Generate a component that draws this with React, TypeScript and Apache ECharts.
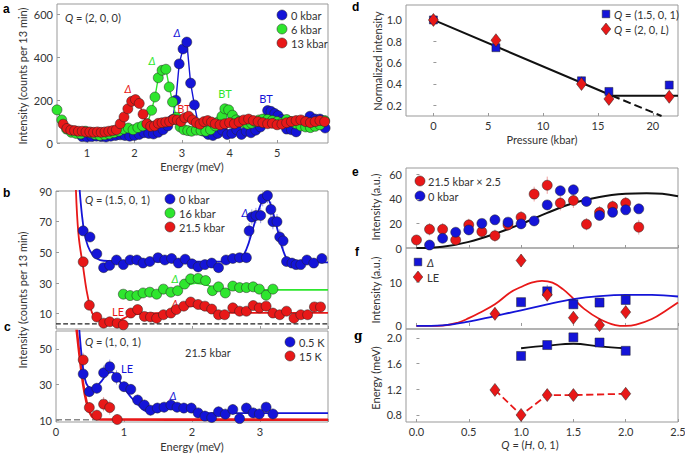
import React, { useEffect, useRef } from "react";
import * as echarts from "echarts";

type P = [number, number];

// ---------- Panel a: Q = (2,0,0) ----------
const A_0KBAR: P[] = [[0.9,30],[1.0,28],[1.1,30],[1.2,32],[1.3,30],[1.4,28],[1.5,32],[1.6,35],[1.7,38],[1.8,35],[1.9,32],[2.0,35],[2.1,40],[2.2,48],[2.3,45],[2.4,42],[2.5,50],[2.6,62],[2.7,80],[2.8,110],[2.87,200],[2.94,370],[3.02,440],[3.1,472],[3.18,280],[3.26,178],[3.35,80],[3.45,55],[3.55,40],[3.65,35],[3.75,45],[3.85,60],[3.95,40],[4.05,45],[4.15,62],[4.25,40],[4.35,55],[4.45,48],[4.55,60],[4.65,75],[4.72,110],[4.8,152],[4.87,148],[4.95,138],[5.02,128],[5.1,110],[5.2,65],[5.3,62],[5.4,52],[5.48,99],[5.59,88],[5.69,125],[5.8,112],[5.9,112],[6.01,70]];
const A_6KBAR: P[] = [[0.37,155],[0.47,108],[0.57,65],[0.67,50],[0.77,45],[0.87,42],[0.97,55],[1.07,48],[1.17,40],[1.27,35],[1.37,38],[1.47,42],[1.57,48],[1.67,55],[1.77,65],[1.87,70],[1.97,62],[2.07,72],[2.17,80],[2.27,90],[2.36,153],[2.43,215],[2.5,305],[2.58,340],[2.66,345],[2.73,262],[2.8,192],[2.88,120],[2.96,75],[3.04,62],[3.12,58],[3.2,55],[3.3,60],[3.4,58],[3.5,55],[3.6,62],[3.7,80],[3.77,100],[3.84,125],[3.9,160],[3.98,155],[4.06,130],[4.14,108],[4.22,102],[4.3,95],[4.38,88],[4.46,92],[4.54,100],[4.62,108],[4.7,112],[4.8,110],[4.9,105],[5.0,100],[5.1,95],[5.2,110],[5.3,100],[5.4,90],[5.5,80],[5.6,75],[5.7,72],[5.8,78],[5.9,85],[6.0,105]];
const A_13KBAR: P[] = [[0.5,88],[0.58,68],[0.66,60],[0.74,58],[0.82,55],[0.9,55],[0.98,52],[1.06,52],[1.14,50],[1.22,52],[1.3,50],[1.38,52],[1.46,55],[1.54,58],[1.62,62],[1.7,90],[1.78,122],[1.86,160],[1.94,195],[2.02,203],[2.1,185],[2.18,135],[2.26,90],[2.34,78],[2.42,80],[2.5,92],[2.58,95],[2.66,98],[2.74,100],[2.82,110],[2.9,108],[2.98,100],[3.06,118],[3.14,125],[3.22,108],[3.3,95],[3.38,88],[3.46,100],[3.54,105],[3.62,98],[3.7,90],[3.8,85],[3.9,90],[4.0,95],[4.1,90],[4.2,98],[4.3,108],[4.4,112],[4.5,105],[4.6,100],[4.7,95],[4.8,90],[4.9,92],[5.0,85],[5.1,88],[5.2,95],[5.3,100],[5.4,105],[5.5,108],[5.6,100],[5.7,95],[5.8,100],[5.9,105],[6.0,100]];

// ---------- Panel b: Q = (1.5,0,1) ----------
const B_0KBAR: P[] = [[0.40,64],[0.5,60],[0.6,49],[0.7,40],[0.79,41.5],[0.89,45],[0.99,42],[1.09,45],[1.19,45],[1.28,43],[1.38,44],[1.5,46.5],[1.6,45],[1.7,46],[1.8,43],[1.9,45.5],[2.0,42.5],[2.09,40.5],[2.19,42],[2.29,43],[2.39,40],[2.5,45],[2.6,46],[2.7,46.5],[2.8,46.5],[2.84,64],[2.88,73],[2.94,74],[3.01,74],[3.04,85],[3.11,87],[3.16,78],[3.19,70],[3.25,70],[3.29,60],[3.34,57.5],[3.39,44],[3.47,43],[3.53,42],[3.6,42],[3.69,45],[3.79,43],[3.91,46]];
const B_0KBAR_ERR = [3,3,3,3,3,3,3,3,3,3,3,3,3,3,3,3,3,3,3,3,3,3,3,3,3,5,5,5,5,5,5,5,5,5,5,5,3,3,3,3,3,3,3];
const B_16KBAR: P[] = [[0.99,22.7],[1.09,21.8],[1.19,21.8],[1.28,23.5],[1.38,24],[1.48,22.7],[1.58,26],[1.69,24],[1.79,25],[1.89,29.3],[1.98,32.7],[2.09,33],[2.2,31.6],[2.3,25],[2.39,27.5],[2.49,23.5],[2.6,28],[2.7,27],[2.8,27],[2.9,27.5],[2.99,26],[3.09,22],[3.19,26]];
const B_21KBAR: P[] = [[0.40,43.8],[0.49,15.5],[0.6,7.8],[0.7,3.8],[0.79,4.7],[0.9,3.8],[0.99,2.7],[1.1,10.4],[1.2,12.7],[1.3,8.2],[1.39,7.8],[1.48,7],[1.58,9.3],[1.69,10.4],[1.77,12.7],[1.88,14.9],[1.98,17.6],[2.09,16],[2.19,14.9],[2.29,13],[2.39,9.3],[2.48,9.3],[2.6,13.8],[2.7,11.6],[2.8,11.6],[2.9,15.3],[2.99,13.8],[3.09,14.9],[3.19,10.4],[3.29,9.3],[3.39,11.6],[3.5,7],[3.6,9.3],[3.7,9.3],[3.8,14.4],[3.89,14.4]];
const B_FIT_0: P[] = [[0.34,95],[0.38,75],[0.42,62],[0.47,54],[0.53,49],[0.6,46],[0.7,44.5],[1.0,44],[2.6,44],[2.7,45],[2.8,52],[2.9,66],[3.0,80],[3.08,86],[3.15,82],[3.25,66],[3.35,50],[3.45,44],[4.0,43.5]];
const B_FIT_16: P[] = [[0.95,22.5],[1.4,23.5],[1.7,25],[1.9,28],[2.05,30],[2.2,29],[2.4,26],[2.8,25.8],[3.2,25.5],[4.0,25.5]];
const B_FIT_21: P[] = [[0.29,95],[0.33,62],[0.4,40],[0.45,25],[0.5,15],[0.55,9],[0.65,5.5],[0.8,5],[0.95,6],[1.1,9],[1.3,10],[1.7,11],[1.9,14],[2.0,15],[2.15,13],[2.4,10.5],[4.0,10.5]];
const B_BASE: P[] = [[0,3.3],[4,3.3]];

// ---------- Panel c: Q = (1,0,1), 21.5 kbar ----------
const C_05K: P[] = [[0.40,35.9],[0.49,26],[0.6,27.9],[0.7,36.6],[0.79,40],[0.89,34],[1.0,28.8],[1.1,27.3],[1.2,21.3],[1.3,18.5],[1.39,15.6],[1.49,16.8],[1.59,17.3],[1.69,18.5],[1.78,17.3],[1.88,16.8],[1.99,16.8],[2.09,14.1],[2.19,12.3],[2.29,11.5],[2.39,14.7],[2.49,13.4],[2.6,16],[2.7,10.9],[2.8,16.8],[2.9,14.1],[2.99,13.5],[3.09,17.3],[3.19,13.5]];
const C_05K_ERR = [4,3,3,4,4,4,3,3,3,3,3,3,3,3,3,3,3,3,3,3,3,3,3,3,3,3,3,3,3];
const C_15K: P[] = [[0.40,43.8],[0.49,17.1],[0.6,12.8],[0.7,19],[0.79,17.1],[0.9,10.4]];
const C_15K_ERR = [4,3,3,4,4,3];
const C_FIT_05: P[] = [[0.34,62],[0.38,45],[0.42,34],[0.47,29],[0.55,28],[0.65,31],[0.75,36],[0.82,37],[0.9,34],[1.0,28],[1.1,23],[1.2,19],[1.3,15.5],[1.4,14.5],[1.55,15.5],[1.7,17],[1.85,16.5],[2.0,15],[2.2,14],[2.5,14],[4.0,14]];
const C_FIT_15: P[] = [[0.3,62],[0.35,45],[0.4,30],[0.45,20],[0.5,14],[0.55,11.5],[0.65,10.4],[4.0,10.3]];
const C_BASE: P[] = [[0,10.2],[0.6,10.2]];

// ---------- Panel d: pressure dependence ----------
const D_Q15: P[] = [[0,1.0],[5.7,0.74],[13.5,0.43],[16,0.33],[21.5,0.39]];
const D_Q15_ERR = [0.04,0.03,0.04,0.03,0.04];
const D_Q2: P[] = [[0,1.0],[5.7,0.81],[13.5,0.40],[16,0.26],[21.5,0.28]];
const D_Q2_ERR = [0.05,0.03,0.04,0.03,0.03];
const D_FIT: P[] = [[0,1.0],[16.3,0.29],[22.3,0.29]];
const D_FIT_DASH: P[] = [[16.3,0.29],[20.8,0.1]];

// ---------- Panel e: intensity vs Q ----------
const E_21KBAR: P[] = [[0,6.5],[0.125,15.2],[0.25,15.2],[0.375,6.5],[0.5,18.8],[0.625,13.3],[0.75,10],[0.875,18.8],[1.0,25],[1.125,43.8],[1.25,51],[1.375,36.5],[1.5,38.6],[1.625,19.3],[1.75,29],[1.875,33.7],[2.0,36.5],[2.125,16.9]];
const E_21KBAR_ERR = [3,5,5,4,5,5,5,5,5,6,7,6,6,5,5,5,5,6];
const E_0KBAR: P[] = [[0.125,2.4],[0.25,7.9],[0.375,12.8],[0.5,14.7],[0.625,20],[0.75,22.9],[0.875,21],[1.0,19.6],[1.125,22],[1.25,35],[1.375,46.5],[1.5,47.3],[1.625,37.8],[1.75,26.4],[1.875,29],[2.0,31],[2.125,31.8]];
const E_0KBAR_ERR = [2,3,3,3,3,3,3,3,3,3,3,3,3,3,3,3,3];
const E_FIT: P[] = [[0,0],[0.25,1],[0.5,5],[0.75,11.5],[1.0,19.5],[1.25,28.5],[1.5,36.5],[1.75,41.5],[2.0,44],[2.2,44.5],[2.35,44],[2.5,42]];

// ---------- Panel f ----------
const F_DELTA: P[] = [[1.0,5.5],[1.25,8],[1.5,5],[1.75,5.4],[2.0,6]];
const F_DELTA_ERR = [1,1.5,1,1,1];
const F_LE: P[] = [[0.75,2.8],[1.0,15.1],[1.25,7.2],[1.5,1.9],[1.75,0.2],[2.0,3.2]];
const F_LE_ERR = [1.5,1.5,1.5,1.5,1.5,1.5];
const F_FIT_LE: P[] = [[0,0],[0.25,0.1],[0.4,0.8],[0.5,1.8],[0.6,3],[0.75,5],[0.9,7.8],[1.0,9],[1.1,10],[1.2,10.4],[1.3,10],[1.4,8.5],[1.5,6.3],[1.6,4],[1.75,1.6],[1.9,0.2],[2.0,0],[2.1,0.3],[2.25,1.6],[2.4,3.8],[2.5,5.4]];
const F_FIT_DELTA: P[] = [[0,0],[0.25,0.15],[0.5,1.0],[0.75,2.3],[1.0,3.6],[1.25,5.0],[1.5,6.2],[1.75,6.9],[2.0,7.2],[2.25,7.2],[2.5,6.8]];

// ---------- Panel g ----------
const G_DELTA: P[] = [[1.0,1.72],[1.25,1.89],[1.5,2.01],[1.75,1.93],[2.0,1.80]];
const G_DELTA_ERR = [0.03,0.04,0.04,0.05,0.03];
const G_LE: P[] = [[0.75,1.19],[1.0,0.80],[1.25,1.11],[1.5,1.11],[2.0,1.13]];
const G_LE_ERR = [0.07,0.05,0.05,0.05,0.07];
const G_FIT: P[] = [[1.0,1.84],[1.25,1.88],[1.5,1.91],[1.75,1.87],[2.0,1.84]];

// tick values
const A_XT = [1, 2, 3, 4, 5];
const A_YT = [0, 200, 400, 600];
const BC_XT = [0, 1, 2, 3, 4];
const C_XL = [0, 1, 2, 3];
const B_YT = [10, 30, 50, 70, 90];
const C_YT = [10, 30, 50];
const D_XT = [0, 5, 10, 15, 20];
const D_YT = [0.2, 0.4, 0.6, 0.8, 1.0];
const Q_XT = [0, 0.5, 1.0, 1.5, 2.0, 2.5];
const E_YT = [0, 20, 40, 60];
const F_YT = [0, 10];
const G_YT = [0.8, 1.2, 1.6, 2.0];

const BLUE = "#1414d8";
const GREEN = "#2ee62e";
const RED = "#e81818";
const BLUE_ERR = "#9a9ae8";
const RED_ERR = "#f0a0a0";
const FONT = "Lato, 'Open Sans', sans-serif";
const TXT = "#333";

function vAxis(gi: number, min: number, max: number, ticks: number[], labels: number[] | null, fmt?: (v: number) => string) {
  return {
    type: "value", gridIndex: gi, min, max, scale: true,
    splitLine: { show: false },
    axisLine: { show: false },
    axisTick: { show: true, inside: true, length: 3, lineStyle: { color: "#999" }, customValues: ticks },
    axisLabel: {
      show: !!labels, customValues: labels || ticks, fontSize: 11, color: TXT, fontFamily: FONT, margin: 4,
      formatter: fmt ? (v: number) => fmt(v) : undefined,
    },
  };
}

function lineSym(data: P[], gi: number, color: string) {
  return {
    type: "line", data, xAxisIndex: gi, yAxisIndex: gi, symbol: "circle", symbolSize: 10, showSymbol: true,
    itemStyle: { color, borderColor: "#222", borderWidth: 0.5 },
    lineStyle: { color, width: 1.4 }, z: 3,
  };
}
function pts(data: P[], gi: number, color: string, symbol = "circle", size: any = 10) {
  return {
    type: "scatter", data, xAxisIndex: gi, yAxisIndex: gi, symbol, symbolSize: size,
    itemStyle: { color, borderColor: "#222", borderWidth: 0.5, opacity: 1 }, z: 4,
  };
}
function fit(data: P[], gi: number, color: string, width = 1.8, dashed = false, smooth: any = 0.4) {
  return {
    type: "line", data, xAxisIndex: gi, yAxisIndex: gi, symbol: "none", showSymbol: false, smooth,
    lineStyle: { color, width, type: dashed ? "dashed" : "solid" }, z: 2, silent: true,
  };
}
function errBars(data: P[], err: number[], gi: number, color: string) {
  return {
    type: "custom", xAxisIndex: gi, yAxisIndex: gi, silent: true, z: 1, clip: true,
    data: data.map((p, i) => [p[0], p[1], err[i]]),
    renderItem: (_params: any, api: any) => {
      const x = api.value(0), y = api.value(1), e = api.value(2);
      const lo = api.coord([x, y - e]);
      const hi = api.coord([x, y + e]);
      return { type: "line", shape: { x1: lo[0], y1: lo[1], x2: hi[0], y2: hi[1] }, style: { stroke: color, lineWidth: 1 } };
    },
  };
}

function txt(x: number, y: number, text: string, color = TXT, extra: any = {}) {
  return {
    type: "text", x, y, silent: true,
    style: {
      text, fill: color, fontSize: 11, fontFamily: FONT,
      align: extra.align || "left", textAlign: extra.align || "left",
      verticalAlign: "middle", textVerticalAlign: "middle",
      fontStyle: extra.italic ? "italic" : "normal",
      fontWeight: extra.bold ? "bold" : "normal",
      rich: {
        i: { fontStyle: "italic", fontSize: 11, fontFamily: FONT, fill: color },
      },
    },
  };
}
function rotTxt(x: number, y: number, text: string) {
  return {
    type: "text", x, y, rotation: Math.PI / 2, silent: true,
    style: {
      text, fill: TXT, fontSize: 11, fontFamily: FONT,
      align: "center", textAlign: "center", verticalAlign: "middle", textVerticalAlign: "middle",
    },
  };
}
function letter(x: number, y: number, t: string, serif = false) {
  return {
    type: "text", x, y, silent: true,
    style: { text: t, fill: "#000", fontSize: 12, fontWeight: "bold", fontFamily: serif ? "'DejaVu Serif', serif" : "Arial, 'Liberation Sans', sans-serif", verticalAlign: "middle", textVerticalAlign: "middle" },
  };
}
function dot(cx: number, cy: number, color: string) {
  return { type: "circle", shape: { cx, cy, r: 5 }, style: { fill: color, stroke: "#222", lineWidth: 0.5 }, silent: true };
}
function sq(cx: number, cy: number, color: string) {
  return { type: "rect", shape: { x: cx - 3.8, y: cy - 3.8, width: 7.6, height: 7.6 }, style: { fill: color, stroke: "#222", lineWidth: 0.5 }, silent: true };
}
function dia(cx: number, cy: number, color: string) {
  return { type: "polygon", shape: { points: [[cx, cy - 6], [cx + 4.8, cy], [cx, cy + 6], [cx - 4.8, cy]] }, style: { fill: color, stroke: "#222", lineWidth: 0.5 }, silent: true };
}

export default function App() {
  const ref = useRef<HTMLDivElement>(null);
  useEffect(() => {
    if (!ref.current) return;
    const chart = echarts.init(ref.current, undefined, { renderer: "svg" });
    const gridStyle = { show: true, borderColor: "#999", borderWidth: 1, backgroundColor: "transparent", containLabel: false, outerBoundsMode: "none" };
    const grids = [
      { left: 57, top: 4, width: 271, height: 139 },
      { left: 56, top: 191, width: 272, height: 138 },
      { left: 56, top: 331, width: 272, height: 91 },
      { left: 406, top: 5, width: 272, height: 111 },
      { left: 406, top: 168, width: 272, height: 80 },
      { left: 406, top: 248, width: 272, height: 81 },
      { left: 406, top: 329, width: 272, height: 93 },
    ].map((g) => ({ ...gridStyle, ...g }));

    const f1 = (v: number) => v.toFixed(1);
    const xAxis = [
      vAxis(0, 0.37, 6.07, A_XT, A_XT),
      vAxis(1, 0, 4, BC_XT, null),
      vAxis(2, 0, 4, BC_XT, C_XL),
      vAxis(3, -2.5, 22.3, D_XT, D_XT),
      vAxis(4, -0.1, 2.5, Q_XT, null),
      vAxis(5, -0.1, 2.5, Q_XT, null),
      vAxis(6, -0.1, 2.5, Q_XT, Q_XT, f1),
    ];
    const yAxis = [
      vAxis(0, 0, 650, A_YT, A_YT),
      vAxis(1, 0, 90, B_YT, B_YT),
      vAxis(2, 9, 60, C_YT, C_YT),
      vAxis(3, 0.1, 1.14, D_YT, D_YT, f1),
      vAxis(4, 0, 65, E_YT, E_YT),
      vAxis(5, -0.7, 18, F_YT, F_YT),
      vAxis(6, 0.69, 2.14, G_YT, G_YT, f1),
    ];

    const series: any[] = [
      // a
      lineSym(A_0KBAR, 0, BLUE),
      lineSym(A_6KBAR, 0, GREEN),
      lineSym(A_13KBAR, 0, RED),
      // b
      fit(B_BASE, 1, "#222", 1.2, true, false),
      errBars(B_0KBAR, B_0KBAR_ERR, 1, BLUE_ERR),
      fit(B_FIT_0, 1, BLUE),
      fit(B_FIT_16, 1, GREEN),
      fit(B_FIT_21, 1, RED),
      pts(B_0KBAR, 1, BLUE),
      pts(B_16KBAR, 1, GREEN),
      pts(B_21KBAR, 1, RED),
      // c
      errBars(C_05K, C_05K_ERR, 2, BLUE_ERR),
      errBars(C_15K, C_15K_ERR, 2, RED_ERR),
      fit(C_BASE, 2, "#888", 1.5, true, false),
      fit(C_FIT_15, 2, RED, 2.6),
      fit(C_FIT_05, 2, BLUE),
      pts(C_15K, 2, RED),
      pts(C_05K, 2, BLUE),
      // d
      errBars(D_Q15, D_Q15_ERR, 3, BLUE_ERR),
      errBars(D_Q2, D_Q2_ERR, 3, RED_ERR),
      fit(D_FIT, 3, "#111", 2, false, false),
      fit(D_FIT_DASH, 3, "#111", 2, true, false),
      pts(D_Q15, 3, BLUE, "rect", 8),
      pts(D_Q2, 3, RED, "diamond", [10, 13]),
      // e
      errBars(E_0KBAR, E_0KBAR_ERR, 4, BLUE_ERR),
      errBars(E_21KBAR, E_21KBAR_ERR, 4, RED_ERR),
      fit(E_FIT, 4, "#111", 2),
      pts(E_21KBAR, 4, RED),
      pts(E_0KBAR, 4, BLUE),
      // f
      errBars(F_DELTA, F_DELTA_ERR, 5, BLUE_ERR),
      errBars(F_LE, F_LE_ERR, 5, RED_ERR),
      fit(F_FIT_LE, 5, RED, 1.8),
      fit(F_FIT_DELTA, 5, BLUE, 1.8),
      pts(F_DELTA, 5, BLUE, "rect", 9),
      pts(F_LE, 5, RED, "diamond", [10, 13]),
      // g
      errBars(G_DELTA, G_DELTA_ERR, 6, BLUE_ERR),
      errBars(G_LE, G_LE_ERR, 6, RED_ERR),
      fit(G_FIT, 6, "#111", 1.8),
      fit(G_LE, 6, RED, 1.8, true, false),
      pts(G_DELTA, 6, BLUE, "rect", 9),
      pts(G_LE, 6, RED, "diamond", [10, 13]),
    ];

    const graphic: any[] = [
      letter(3, 9, "a"), letter(3, 193, "b"), letter(4, 327, "c"),
      letter(352, 7, "d"), letter(352, 172, "e"), letter(355, 252, "f"), letter(354, 336, "g", true),
      // axis titles
      rotTxt(22, 76, "Intensity (counts per 13 min)"),
      txt(192, 166, "Energy (meV)", TXT, { align: "center" }),
      rotTxt(22, 300, "Intensity (counts per 13 min)"),
      txt(192, 446, "Energy (meV)", TXT, { align: "center" }),
      rotTxt(377, 61, "Normalized intensity"),
      txt(542, 139, "Pressure (kbar)", TXT, { align: "center" }),
      rotTxt(375, 207, "Intensity (a.u.)"),
      rotTxt(375, 290, "Intensity (a.u.)"),
      rotTxt(375, 378, "Energy (meV)"),
      txt(530, 444, "{i|Q} = ({i|H}, 0, 1)", TXT, { align: "center" }),
      // panel a
      txt(65, 17, "{i|Q} = (2, 0, 0)"),
      dot(282, 15, BLUE), txt(291, 15, "0 kbar"),
      dot(282, 29, GREEN), txt(291, 29, "6 kbar"),
      dot(282, 43, RED), txt(291, 43, "13 kbar"),
      txt(177, 32, "Δ", BLUE, { align: "center", italic: true }),
      txt(152, 60, "Δ", GREEN, { align: "center", italic: true }),
      txt(128, 88, "Δ", RED, { align: "center", italic: true }),
      txt(184, 108, "BT", RED, { align: "center" }),
      txt(225, 93, "BT", GREEN, { align: "center" }),
      txt(266, 98, "BT", BLUE, { align: "center" }),
      // panel b
      txt(85, 199, "{i|Q} = (1.5, 0, 1)"),
      dot(170, 199, BLUE), txt(179, 199, "0 kbar"),
      dot(170, 213, GREEN), txt(179, 213, "16 kbar"),
      dot(170, 227, RED), txt(179, 227, "21.5 kbar"),
      txt(245, 212, "Δ", BLUE, { align: "center", italic: true }),
      txt(175, 278, "Δ", GREEN, { align: "center", italic: true }),
      txt(175, 303, "Δ", RED, { align: "center", italic: true }),
      txt(118, 311, "LE", RED, { align: "center" }),
      // panel c
      txt(85, 341, "{i|Q} = (1, 0, 1)"),
      txt(185, 352, "21.5 kbar"),
      dot(290, 342, BLUE), txt(299, 342, "0.5 K"),
      dot(290, 356, RED), txt(299, 356, "15 K"),
      txt(127, 368, "LE", BLUE, { align: "center" }),
      txt(173, 395, "Δ", BLUE, { align: "center", italic: true }),
      // panel d
      sq(606, 14, BLUE), txt(614, 14, "{i|Q} = (1.5, 0, 1)"),
      dia(606, 29, RED), txt(614, 29, "{i|Q} = (2, 0, {i|L})"),
      // panel e
      dot(420, 181, RED), txt(428, 181, "21.5 kbar × 2.5"),
      dot(420, 196, BLUE), txt(428, 196, "0 kbar"),
      // panel f
      sq(418, 262, BLUE), txt(427, 262, "Δ", TXT, { italic: true }),
      dia(418, 277, RED), txt(427, 277, "LE"),
    ];

    chart.setOption({
      animation: false,
      backgroundColor: "#fff",
      textStyle: { fontFamily: FONT },
      grid: grids,
      xAxis,
      yAxis,
      series,
      graphic: { elements: graphic },
    });
    return () => chart.dispose();
  }, []);
  return <div ref={ref} style={{ position: "absolute", left: 0, top: 0, width: 685, height: 453 }} />;
}
